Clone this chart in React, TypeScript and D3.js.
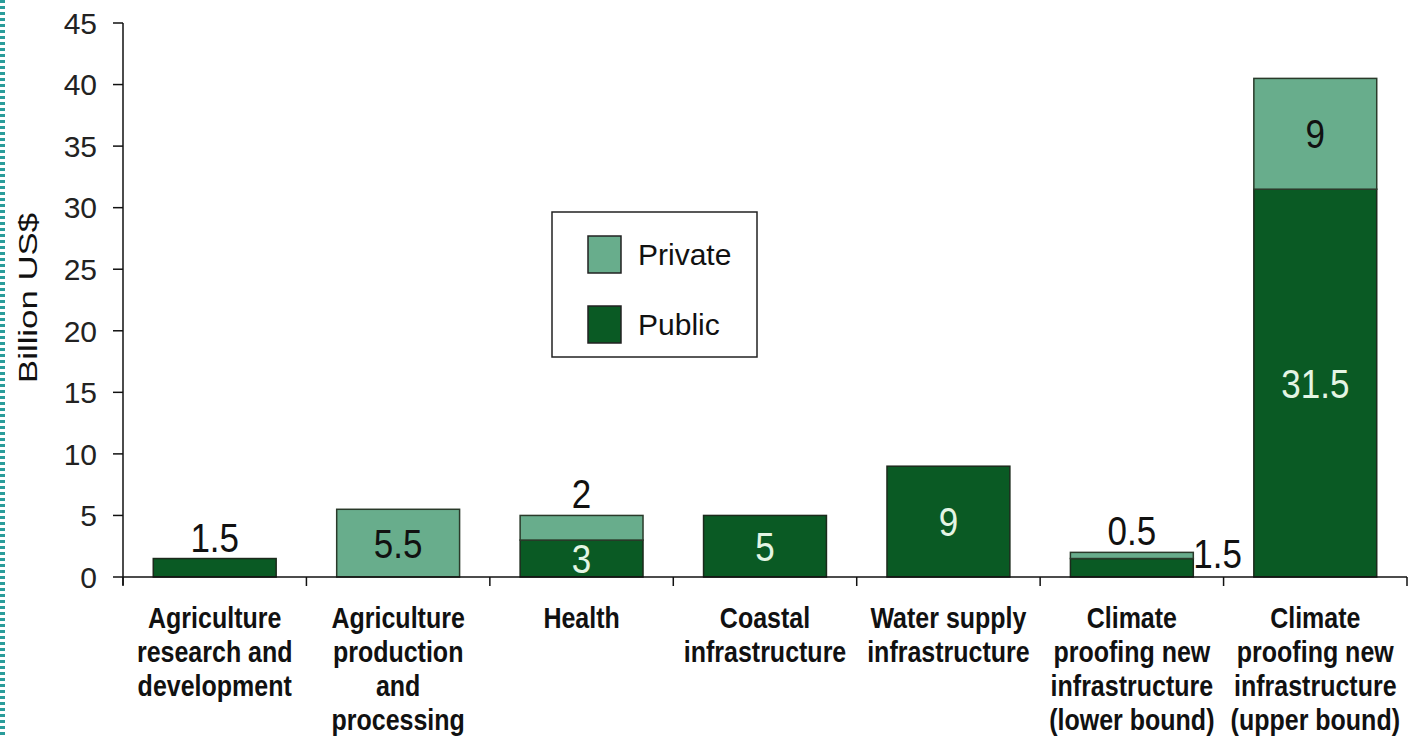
import React from "react";
import * as d3 from "d3";

const categories: string[][] = [
  ["Agriculture", "research and", "development"],
  ["Agriculture", "production", "and", "processing"],
  ["Health"],
  ["Coastal", "infrastructure"],
  ["Water supply", "infrastructure"],
  ["Climate", "proofing new", "infrastructure", "(lower bound)"],
  ["Climate", "proofing new", "infrastructure", "(upper bound)"],
];
const publicValues = [1.5, 0, 3, 5, 9, 1.5, 31.5];
const privateValues = [0, 5.5, 2, 0, 0, 0.5, 9];
// label placement for each segment: "center" | "above" | "right" | ""
const publicLabelPos = ["above", "", "center", "center", "center", "right", "center"];
const privateLabelPos = ["", "center", "above", "", "", "above", "center"];
const yTicks = [0, 5, 10, 15, 20, 25, 30, 35, 40, 45];
const seriesNames = ["Private", "Public"];

const W = 1420;
const H = 737;
const DARK = "#0a5a24";
const LIGHT = "#68ad8c";
const INNER_TXT = "#e4f5e4";
const FONT = "'Liberation Sans', Arial, sans-serif";
const SY = 1.15;

export default function App() {
  const left = 123;
  const right = 1407;
  const top = 23;
  const bottom = 577;
  const y = d3.scaleLinear().domain([0, 45]).range([bottom, top]);
  const x = d3
    .scaleBand<number>()
    .domain(d3.range(categories.length))
    .range([left, right])
    .paddingInner(0.33)
    .paddingOuter(0.165);
  const step = x.step();
  const bw = x.bandwidth();
  const valFont = 35;

  const stretched = (key: string, tx: number, ty: number, txt: string | number, anchor: string, fill: string, size: number, bold = false) => (
    <text key={key} transform={`translate(${tx},${ty}) scale(1,${SY})`} textAnchor={anchor}
      fontSize={size} fill={fill} fontWeight={bold ? "bold" : "normal"} fontFamily={FONT}>{txt}</text>
  );

  const segLabel = (
    key: string,
    i: number,
    v: number,
    y0: number,
    y1: number,
    pos: string,
    inside: string
  ) => {
    if (!pos || v <= 0) return null;
    const cx = (x(i) as number) + bw / 2;
    if (pos === "center") {
      return stretched(key, cx, y((y0 + y1) / 2) + 0.36 * valFont * SY, v, "middle", inside, valFont);
    }
    if (pos === "above") {
      return stretched(key, cx, y(y1) - 7, v, "middle", "#111", valFont);
    }
    return stretched(key, (x(i) as number) + bw, y((y0 + y1) / 2), v, "start", "#111", valFont);
  };

  return (
    <svg width={W} height={H} style={{ position: "absolute", left: 0, top: 0, background: "#fff" }}
      fontFamily={FONT}>
      <rect x={0} y={0} width={W} height={H} fill="#fff" />
      {/* dotted page edge */}
      <line x1={2.5} y1={0} x2={2.5} y2={H} stroke="#2a9c9a" strokeWidth={5} strokeDasharray="3 3" />

      {/* bars */}
      {categories.map((_, i) => {
        const x0 = x(i) as number;
        const pub = publicValues[i];
        const pri = privateValues[i];
        return (
          <g key={"b" + i}>
            {pub > 0 && (
              <rect x={x0} y={y(pub)} width={bw} height={y(0) - y(pub)} fill={DARK} stroke="#1c2a1c" strokeWidth={1.5} />
            )}
            {pri > 0 && (
              <rect x={x0} y={y(pub + pri)} width={bw} height={y(pub) - y(pub + pri)} fill={LIGHT} stroke="#2a3a2a" strokeWidth={1.5} />
            )}
          </g>
        );
      })}

      {/* value labels */}
      {categories.map((_, i) => (
        <g key={"l" + i}>
          {segLabel("p" + i, i, publicValues[i], 0, publicValues[i], publicLabelPos[i], INNER_TXT)}
          {segLabel("q" + i, i, privateValues[i], publicValues[i], publicValues[i] + privateValues[i], privateLabelPos[i], "#111")}
        </g>
      ))}

      {/* y axis */}
      <line x1={left} y1={top} x2={left} y2={bottom + 8} stroke="#111" strokeWidth={1.5} />
      {yTicks.map((t) => (
        <g key={"yt" + t}>
          <line x1={left - 10} x2={left} y1={y(t)} y2={y(t)} stroke="#111" strokeWidth={1.5} />
          <text x={97} y={y(t)} dy="0.36em" textAnchor="end" fontSize={30} fill="#222">{t}</text>
        </g>
      ))}

      {/* x axis */}
      <line x1={left} y1={bottom} x2={right} y2={bottom} stroke="#111" strokeWidth={1.5} />
      {d3.range(categories.length + 1).map((k) => (
        <line key={"xt" + k} x1={left + step * k} x2={left + step * k} y1={bottom} y2={bottom + 9} stroke="#111" strokeWidth={1.5} />
      ))}
      {categories.map((lines, i) => (
        <g key={"c" + i}>
          {lines.map((ln, j) =>
            stretched("c" + i + "_" + j, (x(i) as number) + bw / 2, 628 + j * 34, ln, "middle", "#111", 25, true)
          )}
        </g>
      ))}

      {/* y title */}
      <text transform="translate(37,298) rotate(-90)" textAnchor="middle" fontSize={25} fill="#111"
        textLength={170} lengthAdjust="spacingAndGlyphs">Billion US$</text>

      {/* legend */}
      <rect x={552} y={212} width={205} height={145} fill="#fff" stroke="#222" strokeWidth={1.5} />
      {seriesNames.map((n, k) => (
        <g key={n}>
          <rect x={588} y={236 + k * 70} width={33} height={37} fill={k === 0 ? LIGHT : DARK} stroke="#222" strokeWidth={1.5} />
          <text x={638} y={265 + k * 70} fontSize={30} fill="#111">{n}</text>
        </g>
      ))}
    </svg>
  );
}
